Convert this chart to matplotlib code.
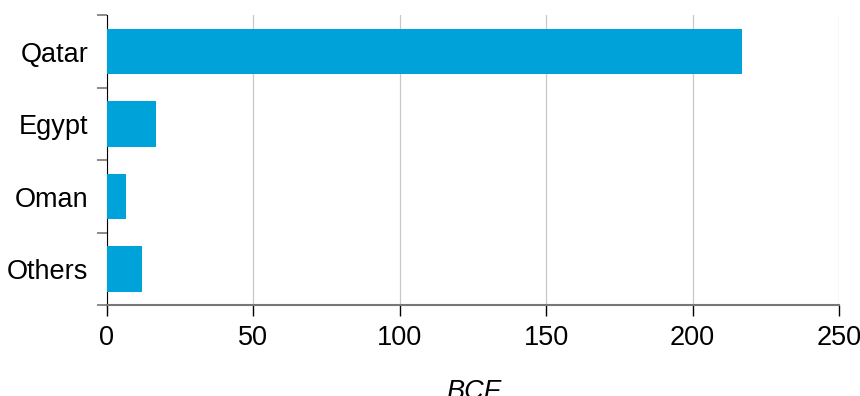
import numpy as np
import matplotlib.pyplot as plt

plt.rcParams['font.family'] = ['Liberation Sans', 'DejaVu Sans']

countries = ['Qatar', 'Egypt', 'Oman', 'Others']
volumes_bcf = [217, 16.9, 6.6, 12.1]
x_ticks = [0, 50, 100, 150, 200, 250]

fig = plt.figure(figsize=(8.6, 3.96), dpi=100)
ax = fig.add_axes([0.1244, 0.229, 0.8512, 0.7324])

pos = np.arange(len(countries))
ax.barh(pos, volumes_bcf, height=0.63, color='#00A3D9', zorder=3)

ax.set_xlim(0, 250)
ax.set_ylim(len(countries) - 0.5, -0.5)

ax.set_xticks(x_ticks)
ax.set_xticklabels([str(t) for t in x_ticks], fontsize=19.5)
ax.tick_params(axis='x', length=8, width=1, color='black', pad=6)

# category boundaries get the tick marks, names sit between them
ax.set_yticks(np.arange(len(countries) + 1) - 0.5)
ax.set_yticklabels([])
ax.tick_params(axis='y', length=7, width=1.2, color='#777777')
ax.set_yticks(pos, minor=True)
ax.set_yticklabels(countries, minor=True, fontsize=19.5)
ax.tick_params(axis='y', which='minor', length=0, pad=13.5)

ax.grid(axis='x', color='#c8c8c8', linewidth=0.9, zorder=0)
ax.spines['top'].set_visible(False)
ax.spines['right'].set_visible(False)
ax.spines['left'].set_color('black')
ax.spines['bottom'].set_color('#777777')
ax.spines['bottom'].set_linewidth(1.5)

ax.set_xlabel('BCF', fontsize=19.5, style='italic', labelpad=20)

fig.savefig('out.png', dpi=100)
